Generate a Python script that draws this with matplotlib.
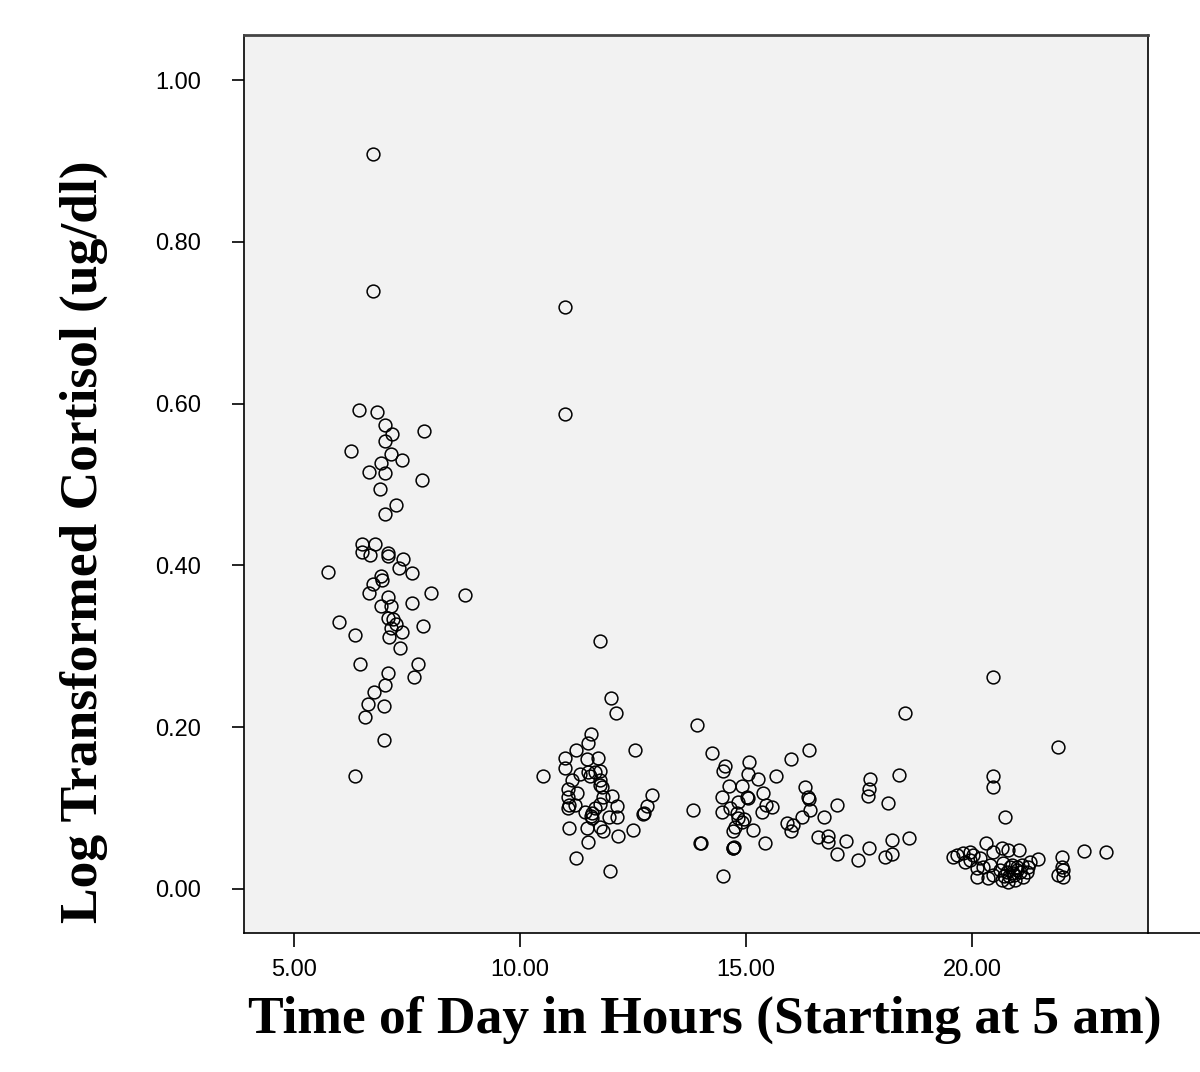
import matplotlib
matplotlib.use("Agg")
import matplotlib.pyplot as plt
from matplotlib.lines import Line2D

# morning samples
morning_x = [6.748, 6.748, 6.438, 6.836, 7.013, 7.168, 7.013, 7.876, 6.261, 7.146,
             7.389, 6.925, 6.659, 7.013, 6.903, 7.832, 7.257, 7.013, 6.504, 6.792,
             6.504, 6.681, 7.080, 7.080, 7.412, 5.752, 7.323, 7.611, 6.925, 6.748,
             6.947, 6.659, 7.080, 8.031, 8.783, 6.925, 7.146, 7.611, 7.080, 7.190,
             7.257, 5.996, 7.854, 6.350, 7.146, 7.389, 7.102, 7.345, 6.460, 7.743,
             7.080, 7.655, 7.013, 6.770, 6.637, 6.991, 6.571, 6.991, 6.350]
morning_y = [0.908, 0.739, 0.592, 0.590, 0.574, 0.563, 0.554, 0.566, 0.542, 0.538,
             0.530, 0.527, 0.516, 0.514, 0.495, 0.505, 0.475, 0.463, 0.427, 0.427,
             0.416, 0.413, 0.415, 0.412, 0.408, 0.392, 0.397, 0.391, 0.387, 0.377,
             0.382, 0.366, 0.361, 0.366, 0.363, 0.350, 0.350, 0.354, 0.335, 0.334,
             0.328, 0.330, 0.325, 0.314, 0.323, 0.318, 0.311, 0.298, 0.278, 0.278,
             0.267, 0.262, 0.252, 0.243, 0.228, 0.226, 0.213, 0.184, 0.140]

# midday samples
midday_x = [10.996, 10.996, 11.770, 12.013, 12.124, 11.571, 11.504, 11.239, 10.996, 11.482,
            11.726, 12.544, 10.996, 11.327, 11.504, 11.659, 11.770, 10.509, 11.549, 11.770,
            11.150, 11.770, 11.814, 11.062, 11.261, 11.062, 11.836, 12.035, 12.920, 11.770,
            11.084, 11.217, 12.146, 12.810, 12.743, 12.721, 11.062, 11.438, 11.593, 11.571,
            11.659, 11.969, 12.146, 11.593, 11.084, 11.770, 11.482, 11.836, 12.500, 12.168,
            11.504, 11.239, 11.991]
midday_y = [0.719, 0.587, 0.306, 0.236, 0.217, 0.192, 0.181, 0.172, 0.162, 0.160,
            0.162, 0.172, 0.150, 0.142, 0.144, 0.145, 0.146, 0.139, 0.139, 0.135,
            0.135, 0.129, 0.126, 0.123, 0.119, 0.114, 0.114, 0.115, 0.116, 0.105,
            0.104, 0.104, 0.103, 0.103, 0.094, 0.093, 0.100, 0.095, 0.094, 0.090,
            0.100, 0.089, 0.089, 0.088, 0.075, 0.077, 0.075, 0.072, 0.073, 0.066,
            0.058, 0.038, 0.022]

# afternoon samples
afternoon_x = [13.916, 14.248, 14.535, 14.491, 15.066, 15.044, 15.265, 15.664, 15.996, 16.394,
               14.624, 14.912, 15.376, 14.469, 15.022, 15.044, 16.305, 16.372, 16.394, 13.827,
               14.469, 14.646, 14.823, 15.354, 15.575, 15.442, 16.416, 17.013, 14.801, 14.956,
               14.912, 14.823, 14.757, 14.712, 15.155, 15.907, 16.040, 15.996, 16.239, 16.726,
               16.593, 16.814, 16.814, 17.212, 13.982, 14.004, 14.712, 14.712, 14.735, 15.420,
               17.013, 17.478, 14.491, 18.518, 17.721, 17.743, 17.721, 17.699, 18.385, 18.142,
               18.230, 18.606, 18.230, 18.075]
afternoon_y = [0.203, 0.168, 0.152, 0.146, 0.157, 0.142, 0.136, 0.140, 0.161, 0.172,
               0.127, 0.127, 0.119, 0.114, 0.114, 0.113, 0.126, 0.114, 0.111, 0.098,
               0.095, 0.100, 0.108, 0.095, 0.101, 0.104, 0.098, 0.104, 0.094, 0.087,
               0.083, 0.088, 0.077, 0.071, 0.073, 0.082, 0.079, 0.072, 0.089, 0.089,
               0.064, 0.066, 0.058, 0.059, 0.057, 0.057, 0.051, 0.050, 0.052, 0.057,
               0.043, 0.036, 0.016, 0.218, 0.050, 0.136, 0.123, 0.115, 0.141, 0.106,
               0.061, 0.063, 0.043, 0.040]

# evening samples
evening_x = [20.465, 20.465, 20.465, 20.730, 21.903, 20.310, 22.478, 22.965, 19.580, 19.668,
             19.801, 19.956, 20.022, 19.956, 20.177, 20.465, 20.664, 20.796, 21.040, 21.460,
             21.991, 20.111, 20.243, 20.398, 20.465, 20.111, 20.354, 20.664, 20.796, 20.951,
             21.128, 21.239, 21.283, 20.686, 20.841, 20.996, 21.062, 20.907, 20.774, 20.885,
             21.106, 21.217, 21.991, 22.013, 21.903, 22.013, 20.619, 20.930, 21.000, 20.820,
             20.710, 19.850]
evening_y = [0.262, 0.139, 0.126, 0.089, 0.176, 0.057, 0.047, 0.046, 0.040, 0.042,
             0.045, 0.046, 0.042, 0.036, 0.038, 0.046, 0.051, 0.048, 0.048, 0.037,
             0.040, 0.026, 0.027, 0.030, 0.017, 0.015, 0.014, 0.011, 0.009, 0.011,
             0.015, 0.027, 0.033, 0.032, 0.027, 0.027, 0.021, 0.020, 0.021, 0.030,
             0.030, 0.021, 0.027, 0.024, 0.017, 0.015, 0.024, 0.017, 0.023, 0.016,
             0.016, 0.033]

x_ticks = [5, 10, 15, 20]
y_ticks = [0.0, 0.2, 0.4, 0.6, 0.8, 1.0]

fig = plt.figure(figsize=(12, 10.72), dpi=100)
ax = fig.add_axes([244 / 1200, 139 / 1072, 904 / 1200, 898 / 1072])
ax.set_facecolor("#f2f2f2")

for xs, ys in [(morning_x, morning_y), (midday_x, midday_y),
               (afternoon_x, afternoon_y), (evening_x, evening_y)]:
    ax.plot(xs, ys, linestyle="none", marker="o", markersize=9.2,
            markerfacecolor="none", markeredgecolor="black", markeredgewidth=1.1)

ax.set_xlim(3.894, 23.894)
ax.set_ylim(-0.0545, 1.0557)
ax.set_xticks(x_ticks)
ax.set_xticklabels(["%.2f" % v for v in x_ticks])
ax.set_yticks(y_ticks)
ax.set_yticklabels(["%.2f" % v for v in y_ticks])
ax.tick_params(axis="y", length=9, width=1.2, pad=22, labelsize=17)
ax.tick_params(axis="x", length=10, width=1.2, pad=9, labelsize=17)
for lab in ax.get_xticklabels() + ax.get_yticklabels():
    lab.set_family("Liberation Sans")

for name, sp in ax.spines.items():
    sp.set_linewidth(1.2)
    sp.set_color("black")
ax.spines["top"].set_color("#444444")
ax.spines["top"].set_linewidth(2)

# x axis line runs past the plot frame on the right
fig.add_artist(Line2D([1148 / 1200, 1.0], [139 / 1072, 139 / 1072],
                      color="black", linewidth=1.2))

fig.text(705 / 1200, 1 - 1020 / 1072, "Time of Day in Hours (Starting at 5 am)",
         ha="center", va="center", fontsize=38.5, fontweight="bold",
         family="Liberation Serif")
fig.text(84 / 1200, 1 - 542 / 1072, "Log Transformed Cortisol (ug/dl)",
         ha="center", va="center", rotation=90, fontsize=38.5, fontweight="bold",
         family="Liberation Serif")

fig.savefig("out.png", dpi=100)
